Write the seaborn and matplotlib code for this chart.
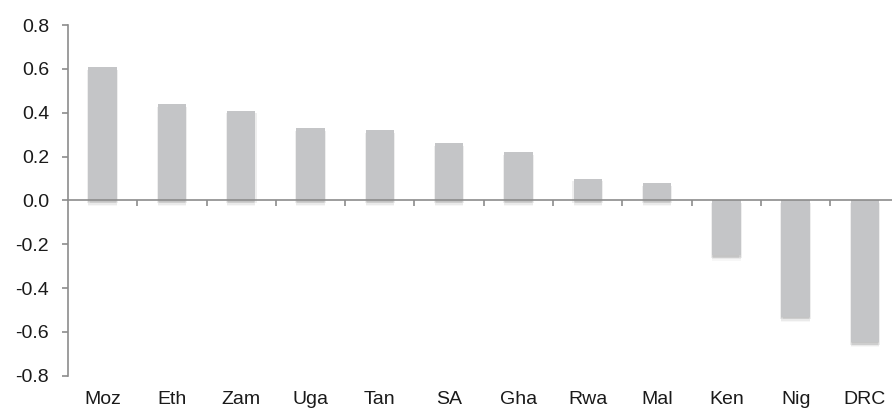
import matplotlib
matplotlib.use("Agg")
import matplotlib.pyplot as plt
import matplotlib.patheffects as pe
import seaborn as sns
import pandas as pd

# Country abbreviations and their values
countries = ["Moz", "Eth", "Zam", "Uga", "Tan", "SA", "Gha", "Rwa", "Mal", "Ken", "Nig", "DRC"]
values = [0.61, 0.44, 0.41, 0.33, 0.32, 0.26, 0.22, 0.10, 0.08, -0.25, -0.53, -0.645]
y_ticks = [-0.8, -0.6, -0.4, -0.2, 0.0, 0.2, 0.4, 0.6, 0.8]

df = pd.DataFrame({"country": countries, "value": values})

sns.set_theme(style="white")
plt.rcParams["font.family"] = ["Liberation Sans", "DejaVu Sans"]

fig = plt.figure(figsize=(8.92, 4.12), dpi=100)
ax = fig.add_axes([0.0762, 0.088, 0.9323, 0.851])

bar_color = "#c4c5c7"
axis_color = "#8c8c8c"
text_color = "#1a1a1a"
font_size = 14

sns.barplot(data=df, x="country", y="value", color=bar_color, width=0.41,
            saturation=1, ax=ax, zorder=2)

# soft drop shadow: a few faint offset copies stacked under each bar
shadow = [
    pe.SimplePatchShadow(offset=(0, -1), shadow_rgbFace="#7a7a7a", alpha=0.12),
    pe.SimplePatchShadow(offset=(0.8, -2), shadow_rgbFace="#7a7a7a", alpha=0.12),
    pe.SimplePatchShadow(offset=(-0.8, -2), shadow_rgbFace="#7a7a7a", alpha=0.12),
    pe.SimplePatchShadow(offset=(0, -3), shadow_rgbFace="#7a7a7a", alpha=0.10),
    pe.SimplePatchShadow(offset=(0, -4), shadow_rgbFace="#7a7a7a", alpha=0.06),
]
for patch in ax.patches:
    patch.set_edgecolor("none")
    patch.set_path_effects(shadow + [pe.Normal()])

ax.set_xlim(-0.5, len(countries) - 0.5)
ax.set_ylim(y_ticks[0], y_ticks[-1])
ax.set_yticks(y_ticks)
ax.set_yticklabels([f"{t:.1f}" for t in y_ticks])
ax.set_xlabel("")
ax.set_ylabel("")

# zero line with separators between categories
ax.spines["bottom"].set_position(("data", 0))
ax.spines["bottom"].set_color(axis_color)
ax.spines["bottom"].set_linewidth(1.2)
ax.spines["bottom"].set_zorder(3)
ax.spines["left"].set_color(axis_color)
ax.spines["left"].set_linewidth(1.2)
ax.spines["top"].set_visible(False)
ax.spines["right"].set_visible(False)

ax.set_xticks([i + 0.5 for i in range(len(countries) - 1)], minor=True)
ax.tick_params(axis="x", which="major", length=0, labelbottom=False)
ax.tick_params(axis="x", which="minor", bottom=True, length=4.5, width=1.2,
               color=axis_color, direction="out")
ax.tick_params(axis="y", which="major", left=True, length=4.5, width=1.2,
               color=axis_color, direction="out", pad=9,
               labelsize=font_size, labelcolor=text_color)

# category names along the bottom edge
sec = ax.secondary_xaxis("bottom")
sec.set_xticks(range(len(countries)))
sec.set_xticklabels(countries)
sec.tick_params(length=0, pad=11, labelsize=font_size, labelcolor=text_color)
sec.spines["bottom"].set_visible(False)

fig.savefig("out.png", dpi=100)
